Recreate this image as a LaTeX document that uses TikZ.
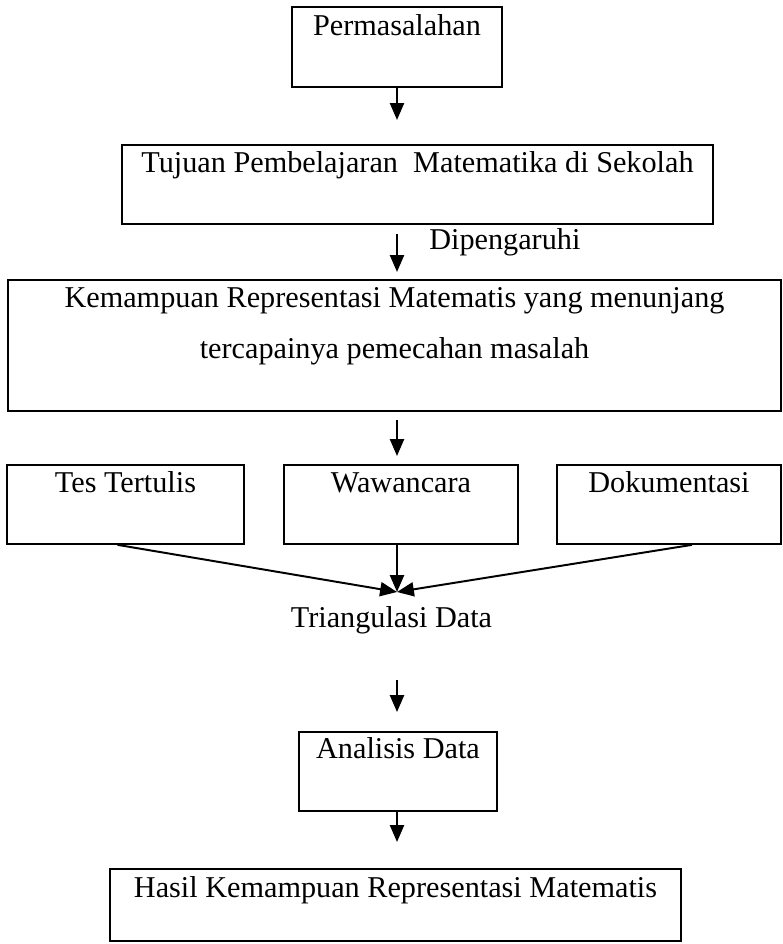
\documentclass[tikz,border=0pt]{standalone}
\usepackage{fontspec}
\setmainfont{Liberation Serif}
\usetikzlibrary{arrows.meta,positioning,calc}

\begin{document}
\begin{tikzpicture}[
  x=0.025cm, y=-0.025cm,
  font=\fontsize{21.5}{36.3}\selectfont,
  box/.style={draw, line width=1.3pt, anchor=north, inner ysep=0pt,
              inner xsep=0pt, minimum height=0pt, align=center},
  flow/.style={-{Triangle[length=12pt,width=10pt]}, line width=1.4pt},
  lbl/.style={inner sep=0pt, anchor=base}
]
\useasboundingbox (0,0) rectangle (782,944);
\coordinate (axis) at (397,0);

%% ===== top: masalah & tujuan =====
\node[box, minimum width=5.25cm, text height=0.725cm, text depth=1.275cm]
  (perm) at (397,6) {Permasalahan};
\node[box, minimum width=14.775cm, text height=0.7cm, text depth=1.275cm]
  (tujuan) at (417.5,144) {Tujuan Pembelajaran~ Matematika di Sekolah};
\node[box, minimum width=19.325cm, text height=1.975cm, text depth=1.3cm]
  (kemamp) at (394.5,279)
  {Kemampuan Representasi Matematis yang menunjang\\
   tercapainya pemecahan masalah};
\node[lbl, anchor=base west] (dipeng) at (429,250) {Dipengaruhi};

\draw[flow, shorten >=17.1pt] (axis |- perm.south) -- (axis |- tujuan.north);
\draw[flow, shorten <=6.4pt, shorten >=5pt] (axis |- tujuan.south) -- (axis |- kemamp.north);

%% ===== teknik pengumpulan data =====
\node[box, minimum width=5.925cm, text height=0.7cm, text depth=1.275cm]
  (tes) at (125.5,464) {Tes Tertulis};
\node[box, minimum width=5.85cm, text height=0.7cm, text depth=1.275cm]
  (wawan) at (401,464) {Wawancara};
\node[box, minimum width=5.6cm, text height=0.7cm, text depth=1.275cm]
  (dokum) at (669,464) {Dokumentasi};
\draw[flow, shorten <=5.7pt, shorten >=5.7pt] (axis |- kemamp.south) -- (axis |- wawan.north);

\coordinate (merge) at (397,592);
\draw[flow] ($(tes.south)+(-8,0)$) -- (merge);
\draw[flow] (axis |- wawan.south) -- (merge);
\draw[flow] ($(dokum.south)+(23,0)$) -- (merge);

%% ===== triangulasi & analisis =====
\node[lbl] (triang) at (391.5,627) {Triangulasi Data};
\node[box, minimum width=4.95cm, text height=0.675cm, text depth=1.3cm]
  (analis) at (398,731) {Analisis Data};
\node[box, minimum width=14.275cm, text height=0.725cm, text depth=1.075cm]
  (hasil) at (395.5,868) {Hasil Kemampuan Representasi Matematis};

\draw[flow, shorten <=37.7pt, shorten >=13.5pt] (axis |- triang.base) -- (axis |- analis.north);
\draw[flow, shorten >=18.5pt] (axis |- analis.south) -- (axis |- hasil.north);

\end{tikzpicture}
\end{document}
